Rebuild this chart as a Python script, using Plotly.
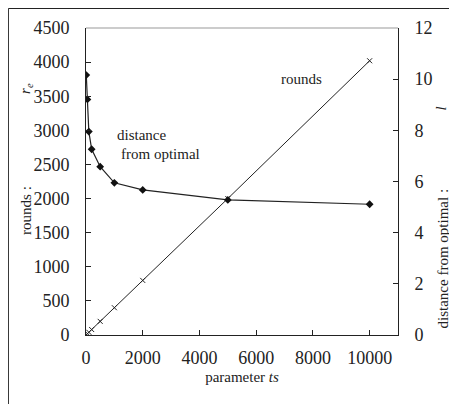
import plotly.graph_objects as go

ts = [10, 50, 100, 200, 500, 1000, 2000, 5000, 10000]
rounds = [4, 20, 40, 80, 200, 400, 800, 2000, 4020]
distance = [10.16, 9.21, 7.95, 7.26, 6.58, 5.95, 5.67, 5.28, 5.11]

x_ticks = [0, 2000, 4000, 6000, 8000, 10000]
x_tick_labels = ["0", "2000", "4000", "6000", "8000", "10000"]
y_left_ticks = [0, 500, 1000, 1500, 2000, 2500, 3000, 3500, 4000, 4500]
y_right_ticks = [0, 2, 4, 6, 8, 10, 12]

FONT = "Liberation Serif"
# page body has an 8px margin, so compensate
OFF = 8
PL, PT, PW, PH = 86 - OFF, 28 - OFF, 311.6, 307

fig = go.Figure()
fig.add_trace(go.Scatter(
    x=ts, y=rounds, mode="lines+markers", yaxis="y",
    line=dict(color="#222", width=1),
    marker=dict(symbol="x-thin", size=5, line=dict(color="#222", width=1)),
    showlegend=False))
fig.add_trace(go.Scatter(
    x=ts, y=distance, mode="lines+markers", yaxis="y2",
    line=dict(color="#222", width=1.2),
    marker=dict(symbol="diamond", size=6, color="#111"),
    showlegend=False))

tickfont = dict(family=FONT, size=18, color="#222")
fig.update_layout(
    width=457, height=404,
    margin=dict(l=PL, r=457 - PL - PW, t=PT, b=404 - PT - PH, autoexpand=False),
    paper_bgcolor="white", plot_bgcolor="white",
    font=dict(family=FONT, color="#222"),
    xaxis=dict(range=[0, 11000], tickvals=x_ticks, ticktext=x_tick_labels,
               ticks="inside", ticklen=5,
               tickcolor="#222", showgrid=False, zeroline=False, showline=True,
               linecolor="#222", linewidth=1, tickfont=tickfont,
               ticklabelstandoff=6,
               title=dict(text="parameter <i>ts</i>", font=dict(family=FONT, size=15), standoff=4)),
    yaxis=dict(range=[0, 4500], tickvals=y_left_ticks, ticks="inside", ticklen=5,
               tickcolor="#222", showgrid=False, zeroline=False, showline=True,
               linecolor="#222", linewidth=1, tickfont=tickfont, ticklabelstandoff=12),
    yaxis2=dict(range=[0, 12], tickvals=y_right_ticks, ticks="inside", ticklen=5,
                tickcolor="#222", showgrid=False, zeroline=False, showline=True,
                linecolor="#222", linewidth=1, tickfont=tickfont, ticklabelstandoff=12,
                overlaying="y", side="right"),
)

# top frame line (gray)
fig.add_shape(type="line", xref="paper", yref="paper", x0=0, x1=1, y0=1, y1=1,
              line=dict(color="#999", width=1))
# outer figure border lines (top and left), at the edge of the figure
top_y = 1 + (PT - 0.5) / PH
left_x = -(PL - 0.5) / PW
fig.add_shape(type="line", xref="paper", yref="paper", x0=left_x, x1=1.3, y0=top_y, y1=top_y,
              line=dict(color="#222", width=1))
fig.add_shape(type="line", xref="paper", yref="paper", x0=left_x, x1=left_x, y0=top_y, y1=-0.3,
              line=dict(color="#222", width=1))

def px_ann(text, x, y, angle=0, size=15):
    fig.add_annotation(text=text, xref="paper", yref="paper",
                       x=(x - 86) / PW, y=(335 - y) / PH, showarrow=False,
                       xanchor="center", yanchor="middle",
                       textangle=angle, font=dict(family=FONT, size=size, color="#222"))

px_ann("rounds", 301, 79)
px_ann("distance", 141, 135)
px_ann("from optimal", 160, 154)
px_ann("rounds :", 26, 210, angle=-90)
px_ann("<i>r<sub>e</sub></i>", 26, 88, angle=-90)
px_ann("distance from optimal :", 443, 258, angle=-90)
px_ann("<i>l</i>", 441, 108, angle=-90)

fig.write_html("out.html")
